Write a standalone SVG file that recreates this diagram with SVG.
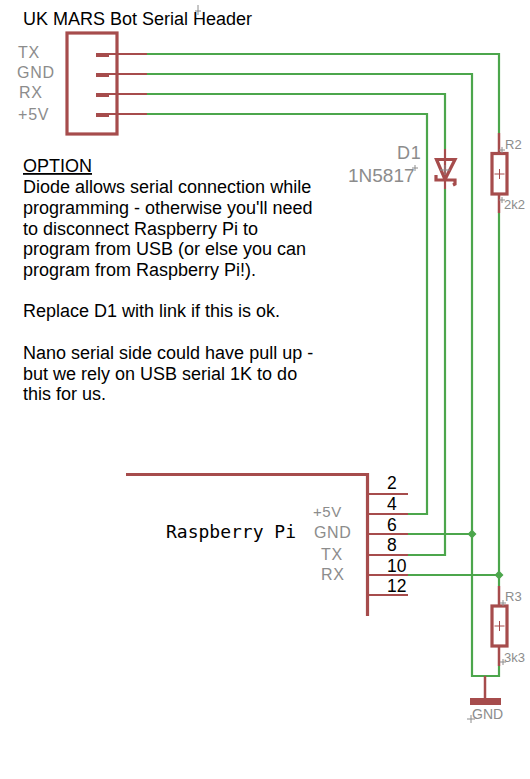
<svg xmlns="http://www.w3.org/2000/svg" width="530" height="779" viewBox="0 0 530 779">
<style>
text{font-family:"Liberation Sans",Arial,sans-serif}
.t{font-size:18px;fill:#000}
.n{font-size:17.500px;fill:#000}
.g{fill:#8c8c8c;font-size:16px;letter-spacing:.8px}
.s{fill:#8c8c8c;font-size:13px}
.w{fill:none;stroke:#4ca64c;stroke-width:2.200}
.r{fill:none;stroke:#a64c4c;stroke-width:2.200}
.b{fill:none;stroke:#a64c4c;stroke-width:3.200}
.x{fill:none;stroke:#8c8c8c;stroke-width:1}
.d{fill:#4ca64c}
.f{fill:#a64c4c}
.m{font-family:"DejaVu Sans Mono","Liberation Mono",monospace;font-size:18px;fill:#000}
</style>
<g id="connectors">
<path class="w" d="M147 54H499V133M147 74H472V676H499V666M147 94H445V149M147 114H427V514H407M407 534H472M445 189V555H407M407 575H499M499 213V586"/>
<path class="d" d="M472 529.500l4.500 4.500-4.500 4.500-4.500-4.500zM499 570.500l4.500 4.500-4.500 4.500-4.500-4.500z"/>
</g>
<g id="header">
<rect class="b" x="67" y="33" width="50" height="101"/>
<path class="r" d="M96 54H147M96 74H147M96 94H147M96 114H147"/>
<path class="f" d="M96 53h13v4h-13zM96 73h13v4h-13zM96 93h13v4h-13zM96 113h13v4h-13z"/>
<text class="g" x="18" y="58">TX</text>
<text class="g" x="17" y="78">GND</text>
<text class="g" x="19" y="98">RX</text>
<text class="g" x="18" y="120">+5V</text>
<text class="t" x="23" y="25">UK MARS Bot Serial Header</text>
<path class="x" d="M198 5v6M195 11h6M198 11v4"/>
</g>
<g id="option-note">
<text class="t" x="23" y="172" text-decoration="underline">OPTION</text>
<text class="t" x="23" y="193">Diode allows serial connection while</text>
<text class="t" x="23" y="214">programming - otherwise you'll need</text>
<text class="t" x="23" y="235">to disconnect Raspberry Pi to</text>
<text class="t" x="23" y="255">program from USB (or else you can</text>
<text class="t" x="23" y="276">program from Raspberry Pi!).</text>
<text class="t" x="23" y="317">Replace D1 with link if this is ok.</text>
<text class="t" x="23" y="359">Nano serial side could have pull up -</text>
<text class="t" x="23" y="380">but we rely on USB serial 1K to do</text>
<text class="t" x="23" y="400">this for us.</text>
</g>
<g id="D1">
<path class="r" d="M445 149V189"/>
<path class="b" d="M436.500 159.500H455L445 179.500zM436 175V180H455V184L453 185"/>
<path class="x" d="M440 170h10M445 165v10M412 168h6M415 165v6"/>
<text class="g" x="397" y="159" style="font-size:18px">D1</text>
<text class="g" x="348" y="182" style="font-size:19px;letter-spacing:0">1N5817</text>
</g>
<g id="R2">
<path class="r" d="M499 133V153M499 194V213" style="stroke-width:2.500"/>
<rect class="b" x="492" y="153.500" width="15" height="40.500"/>
<path class="r" d="M494.500 174h10M499.500 169v10" style="stroke-width:1"/>
<path class="x" d="M499 150h6M502 147v6M499 200h6M502 197v6"/>
<text class="s" x="505" y="149">R2</text>
<text class="s" x="504" y="209">2k2</text>
</g>
<g id="R3">
<path class="r" d="M499 586V606M499 646V666" style="stroke-width:2.500"/>
<rect class="b" x="492" y="606" width="15" height="40"/>
<path class="r" d="M494.500 626h10M499.500 621v10" style="stroke-width:1"/>
<path class="x" d="M500 603h6M503 600v6M500 662h6M503 659v6"/>
<text class="s" x="505" y="601">R3</text>
<text class="s" x="504" y="662">3k3</text>
</g>
<g id="GND">
<path class="r" d="M485 676V700" style="stroke-width:2.500"/>
<rect class="f" x="470" y="698" width="31" height="7"/>
<path class="x" d="M467 719h8M471 715v8"/>
<text class="s" x="472" y="719" style="font-size:14px">GND</text>
</g>
<g id="raspberry-pi">
<path class="b" d="M126 474.500H367.500V616"/>
<path class="r" d="M368 494H408M368 514H408M368 534H408M368 555H408M368 575H408M368 595H408"/>
<text class="n" x="387" y="489">2</text>
<text class="n" x="387" y="510">4</text>
<text class="n" x="387" y="531">6</text>
<text class="n" x="387" y="551">8</text>
<text class="n" x="387" y="572">10</text>
<text class="n" x="387" y="592">12</text>
<text class="g" x="313" y="517" style="font-size:15px;letter-spacing:.6px">+5V</text>
<text class="g" x="314" y="538" style="letter-spacing:.6px">GND</text>
<text class="g" x="321" y="560">TX</text>
<text class="g" x="321" y="580">RX</text>
<text class="m" x="166" y="538">Raspberry Pi</text>
</g>
</svg>
